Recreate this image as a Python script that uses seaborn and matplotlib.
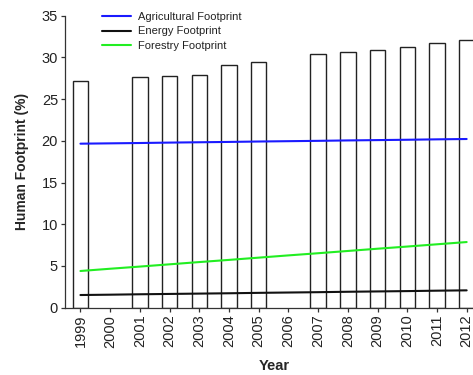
import matplotlib
matplotlib.use("Agg")
import matplotlib.pyplot as plt
import seaborn as sns
import pandas as pd

# Yearly human footprint totals (no survey in 2000 and 2006)
bar_years = [1999, 2001, 2002, 2003, 2004, 2005, 2007, 2008, 2009, 2010, 2011, 2012]
bar_values = [27.2, 27.7, 27.8, 27.9, 29.1, 29.4, 30.4, 30.6, 30.9, 31.2, 31.7, 32.1]

# Component footprints, every year
line_years = list(range(1999, 2013))
agricultural = [19.66, 19.70, 19.74, 19.79, 19.83, 19.87, 19.92, 19.96, 20.00, 20.05, 20.09, 20.13, 20.18, 20.22]
energy = [1.52, 1.56, 1.61, 1.65, 1.69, 1.73, 1.78, 1.82, 1.86, 1.91, 1.95, 1.99, 2.04, 2.08]
forestry = [4.40, 4.67, 4.93, 5.20, 5.47, 5.73, 6.00, 6.27, 6.53, 6.80, 7.07, 7.33, 7.60, 7.87]

series_names = ["Agricultural Footprint", "Energy Footprint", "Forestry Footprint"]
series_colors = ["#1a1aff", "#111111", "#22ee22"]

sns.set_theme(style="ticks")
plt.rcParams["font.family"] = ["Liberation Sans", "DejaVu Sans"]

fig = plt.figure(figsize=(4.73, 3.75), dpi=100)
ax = fig.add_axes([65 / 473, 67.3 / 375, (483 - 65) / 473, 292 / 375])

bars = pd.DataFrame({"Year": bar_years, "Footprint": bar_values})
sns.barplot(data=bars, x="Year", y="Footprint", native_scale=True, width=0.52,
            color="white", edgecolor="#222222", linewidth=1.0, ax=ax, zorder=1)

lines = pd.DataFrame({
    "Year": line_years * 3,
    "Footprint": agricultural + energy + forestry,
    "Series": sum([[n] * len(line_years) for n in series_names], []),
})
sns.lineplot(data=lines, x="Year", y="Footprint", hue="Series",
             palette=dict(zip(series_names, series_colors)), linewidth=1.5,
             ax=ax, zorder=3)

ax.set_xlim(1998.48, 2012.55)
ax.set_ylim(0, 35)
ax.set_xticks(line_years)
ax.set_xticklabels([str(y) for y in line_years], rotation=90)
ax.set_yticks(range(0, 36, 5))
ax.tick_params(axis="both", length=3, width=0.9, color="#333333",
               labelsize=10.5, labelcolor="#222222", pad=2)

for side in ("top", "right"):
    ax.spines[side].set_visible(False)
for side in ("left", "bottom"):
    ax.spines[side].set_color("#333333")
    ax.spines[side].set_linewidth(0.9)

ax.set_xlabel("Year", fontsize=10.5, fontweight="bold", labelpad=8.5)
ax.set_ylabel("Human Footprint (%)", fontsize=10, fontweight="bold", labelpad=9)

leg = ax.legend(loc="upper left", bbox_to_anchor=(102 / 473, 1 - 12 / 375),
                bbox_transform=fig.transFigure, frameon=False, fontsize=8,
                handlelength=2.6, handletextpad=0.6, labelspacing=0.4,
                borderaxespad=0, borderpad=0)
for t in leg.get_texts():
    t.set_color("#222222")

fig.savefig("out.png", dpi=100)
